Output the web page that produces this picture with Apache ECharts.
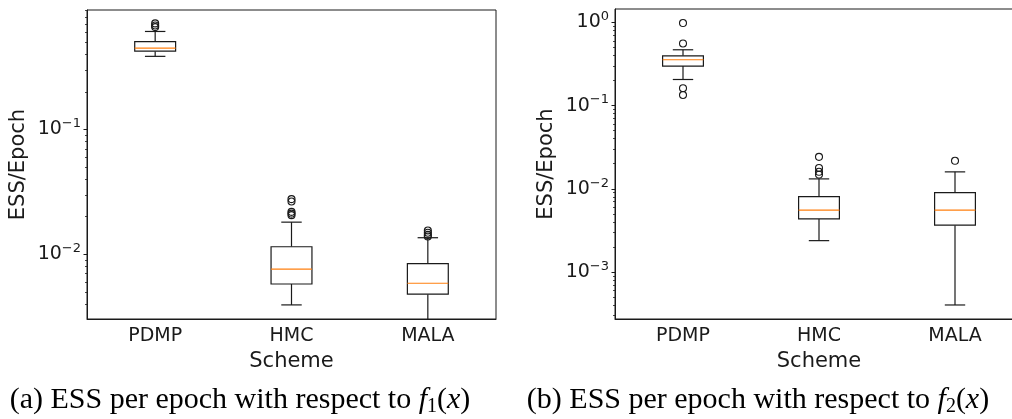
<!DOCTYPE html>
<html>
<head>
<meta charset="utf-8">
<script src="https://cdn.jsdelivr.net/npm/echarts@6/dist/echarts.min.js"></script>
<style>
  html, body { margin: 0; padding: 0; background: #fff; }
  #chart { width: 1012px; height: 419px; }
</style>
</head>
<body>
<div id="chart"></div>
<script>
// categories on the x axis
const categories = ['PDMP', 'HMC', 'MALA'];

// whisker low, Q1, median, Q3, whisker high -- one row per scheme
const boxF1 = [
  [0.386, 0.425, 0.450, 0.506, 0.611],
  [0.00393, 0.00578, 0.00762, 0.0115, 0.0181],
  [0.0025, 0.00479, 0.00586, 0.00841, 0.01358]
];
const outliersF1 = [
  ['PDMP', 0.709], ['PDMP', 0.683], ['PDMP', 0.662],
  ['HMC', 0.0277], ['HMC', 0.0265], ['HMC', 0.0219], ['HMC', 0.0212], ['HMC', 0.0206],
  ['MALA', 0.0155], ['MALA', 0.0149], ['MALA', 0.0143], ['MALA', 0.0139]
];

const boxF2 = [
  [0.206, 0.299, 0.356, 0.397, 0.469],
  [0.00238, 0.00434, 0.00553, 0.00805, 0.01315],
  [0.000401, 0.00365, 0.00553, 0.0090, 0.01597]
];
const outliersF2 = [
  ['PDMP', 0.983], ['PDMP', 0.559], ['PDMP', 0.162], ['PDMP', 0.134],
  ['HMC', 0.0242], ['HMC', 0.0178], ['HMC', 0.0160], ['HMC', 0.0148],
  ['MALA', 0.0217]
];

// y ranges and major (labelled) ticks
const yRangeF1 = [0.00303, 0.908];
const yRangeF2 = [0.000272, 1.45];
const majorTicksF1 = [0.01, 0.1];
const majorTicksF2 = [0.001, 0.01, 0.1, 1];

const captions = [
  '(a) ESS per epoch with respect to {i|f}{s|1}({i|x})',
  '(b) ESS per epoch with respect to {i|f}{s|2}({i|x})'
];

function minorTicks(range) {
  const out = [];
  const lo = Math.floor(Math.log10(range[0]));
  const hi = Math.ceil(Math.log10(range[1]));
  for (let e = lo; e <= hi; e++) {
    for (let m = 2; m <= 9; m++) {
      const v = m * Math.pow(10, e);
      if (v >= range[0] && v <= range[1]) out.push(v);
    }
  }
  return out;
}

const INK = '#1a1a1a';
const SANS = '"DejaVu Sans", sans-serif';
const SERIF = '"Liberation Serif", serif';

function powLabel(v) {
  const e = Math.round(Math.log10(v));
  const s = e < 0 ? '\u2212' + (-e) : String(e);
  return '{b|10}{s|' + s + '}';
}

const grids = [
  { left: 87, top: 10, width: 409, height: 309 },
  { left: 615, top: 9, width: 408, height: 310 }
];

function xAxisFor(i) {
  return {
    type: 'category',
    gridIndex: i,
    data: categories,
    boundaryGap: true,
    name: 'Scheme',
    nameLocation: 'middle',
    nameGap: 32,
    nameTextStyle: { fontFamily: SANS, fontSize: 21, color: INK },
    axisLine: { lineStyle: { color: INK, width: 1 } },
    axisTick: { alignWithLabel: true, length: 3.5, lineStyle: { color: INK } },
    axisLabel: { fontFamily: SANS, fontSize: 19, color: INK, margin: 8 },
    splitLine: { show: false }
  };
}

function yAxesFor(i, range, majors) {
  return [{
    type: 'log',
    gridIndex: i,
    position: 'left',
    min: range[0],
    max: range[1],
    name: 'ESS/Epoch',
    nameLocation: 'middle',
    nameRotate: 90,
    nameGap: 58,
    nameTextStyle: { fontFamily: SANS, fontSize: 21, color: INK },
    axisLine: { show: true, lineStyle: { color: INK, width: 1 } },
    axisTick: { show: true, length: 3.5, customValues: majors, lineStyle: { color: INK } },
    axisLabel: {
      customValues: majors,
      margin: 6,
      formatter: powLabel,
      rich: {
        b: { fontFamily: SANS, fontSize: 19, color: INK, lineHeight: 24, verticalAlign: 'middle' },
        s: { fontFamily: SANS, fontSize: 13, color: INK, lineHeight: 14, verticalAlign: 'top' }
      }
    },
    splitLine: { show: false }
  }, {
    type: 'log',
    gridIndex: i,
    position: 'left',
    offset: 0,
    min: range[0],
    max: range[1],
    axisLine: { show: false },
    axisTick: { show: true, length: 2, customValues: minorTicks(range), lineStyle: { color: INK, width: 0.8 } },
    axisLabel: { show: false },
    splitLine: { show: false }
  }];
}

function boxSeries(i, boxes) {
  return {
    type: 'custom',
    xAxisIndex: i,
    yAxisIndex: i * 2,
    clip: true,
    encode: { x: 0, y: [1, 2, 3, 4, 5] },
    data: boxes.map((b, k) => [k].concat(b)),
    renderItem: function (params, api) {
      const x = api.value(0);
      const lo = api.coord([x, api.value(1)]);
      const q1 = api.coord([x, api.value(2)]);
      const md = api.coord([x, api.value(3)]);
      const q3 = api.coord([x, api.value(4)]);
      const hi = api.coord([x, api.value(5)]);
      const band = api.size([1, 0])[0];
      const hw = band * 0.15;
      const cw = hw / 2;
      const cx = lo[0];
      const line = { stroke: INK, lineWidth: 1.2, fill: null };
      return {
        type: 'group',
        children: [
          { type: 'line', shape: { x1: cx, y1: q3[1], x2: cx, y2: hi[1] }, style: line },
          { type: 'line', shape: { x1: cx, y1: q1[1], x2: cx, y2: lo[1] }, style: line },
          { type: 'line', shape: { x1: cx - cw, y1: hi[1], x2: cx + cw, y2: hi[1] }, style: line },
          { type: 'line', shape: { x1: cx - cw, y1: lo[1], x2: cx + cw, y2: lo[1] }, style: line },
          { type: 'rect', shape: { x: cx - hw, y: q3[1], width: hw * 2, height: q1[1] - q3[1] },
            style: { stroke: INK, lineWidth: 1.2, fill: '#fff' } },
          { type: 'line', shape: { x1: cx - hw, y1: md[1], x2: cx + hw, y2: md[1] },
            style: { stroke: '#ff7f0e', lineWidth: 1.2 } }
        ]
      };
    }
  };
}

function outlierSeries(i, pts) {
  return {
    type: 'scatter',
    xAxisIndex: i,
    yAxisIndex: i * 2,
    symbol: 'circle',
    symbolSize: 7,
    itemStyle: { color: 'rgba(255,255,255,0)', borderColor: INK, borderWidth: 1.1, opacity: 1 },
    data: pts,
    z: 3
  };
}

const chart = echarts.init(document.getElementById('chart'), null, { renderer: 'canvas' });

chart.setOption({
  animation: false,
  backgroundColor: '#fff',
  grid: grids.map(g => Object.assign({
    show: true, borderColor: INK, borderWidth: 1, backgroundColor: 'transparent',
    containLabel: false, outerBoundsMode: 'none'
  }, g)),
  xAxis: [xAxisFor(0), xAxisFor(1)],
  yAxis: yAxesFor(0, yRangeF1, majorTicksF1).concat(yAxesFor(1, yRangeF2, majorTicksF2)),
  series: [
    boxSeries(0, boxF1), outlierSeries(0, outliersF1),
    boxSeries(1, boxF2), outlierSeries(1, outliersF2)
  ],
  graphic: captions.map((t, k) => ({
    type: 'text',
    x: k === 0 ? 240 : 758,
    y: 400,
    style: {
      text: t,
      fill: '#000',
      font: '30px ' + SERIF,
      lineHeight: 33,
      align: 'center',
      verticalAlign: 'middle',
      rich: {
        i: { fontFamily: SERIF, fontStyle: 'italic', fontSize: 30, lineHeight: 33 },
        s: { fontFamily: SERIF, fontSize: 20, lineHeight: 20, verticalAlign: 'bottom' }
      }
    }
  }))
});
</script>
</body>
</html>
